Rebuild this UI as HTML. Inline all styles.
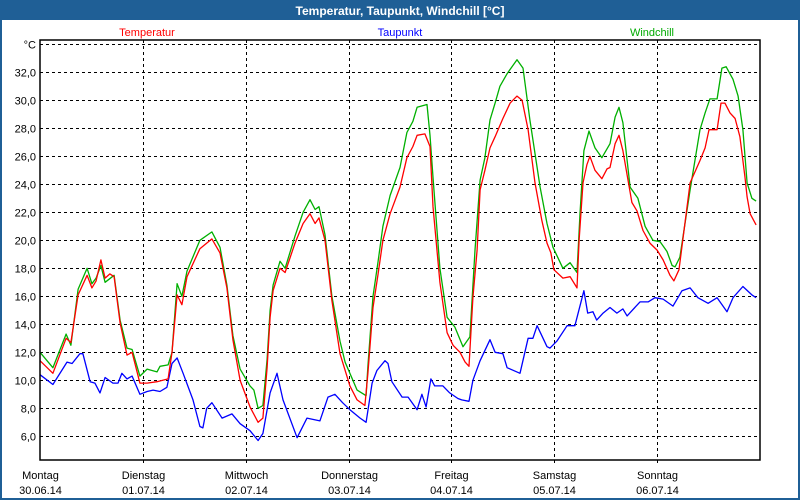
<!DOCTYPE html>
<html><head><meta charset="utf-8"><style>
html,body{margin:0;padding:0;background:#fff}
#wrap{position:relative;width:800px;height:500px;overflow:hidden;font-family:"Liberation Sans",sans-serif}
</style></head><body>
<div id="wrap">
<svg id="chart" width="800" height="500" xmlns="http://www.w3.org/2000/svg">
<rect x="0" y="0" width="800" height="500" fill="#ffffff"/>
<rect x="1" y="1" width="798" height="498" fill="none" stroke="#1f5f96" stroke-width="2"/>
<rect x="0" y="0" width="800" height="20" fill="#1f5f96"/>
<text x="400" y="15" text-anchor="middle" font-size="12" font-weight="bold" fill="#ffffff">Temperatur, Taupunkt, Windchill [°C]</text>
<text x="147" y="36" text-anchor="middle" font-size="11" fill="#ff0000">Temperatur</text>
<text x="400" y="36" text-anchor="middle" font-size="11" fill="#0000ff">Taupunkt</text>
<text x="652" y="36" text-anchor="middle" font-size="11" fill="#00aa00">Windchill</text>
<g id="grid"></g>
<g id="series"></g>
<rect x="40" y="40" width="720" height="420" fill="none" stroke="#000" stroke-width="1.5"/>
<g id="labels"></g>
</svg>
</div>
<script>
const yTicks = [6,8,10,12,14,16,18,20,22,24,26,28,30,32];
const yTickLabels = ["6,0","8,0","10,0","12,0","14,0","16,0","18,0","20,0","22,0","24,0","26,0","28,0","30,0","32,0"];
const dayNames = ["Montag","Dienstag","Mittwoch","Donnerstag","Freitag","Samstag","Sonntag"];
const dayDates = ["30.06.14","01.07.14","02.07.14","03.07.14","04.07.14","05.07.14","06.07.14"];

const tempHours = [0,3.0,6.1,7.2,8.9,11.0,12.1,13.1,14.2,15.2,16.3,17.3,18.7,20.3,21.5,23.3,25.0,27.3,29.9,30.8,32.0,33.1,34.3,37.3,40.1,42.0,43.6,45.0,46.7,49.0,50.9,52.0,53.0,53.7,54.4,56.0,57.2,59.5,61.4,63.0,64.2,65.1,66.5,68.1,70.0,72.3,74.0,75.8,76.5,77.7,78.9,80.0,81.7,84.0,85.6,87.0,88.0,89.8,91.0,91.7,93.3,95.0,96.4,98.0,99.2,100.1,101.0,102.0,102.7,103.8,105.0,106.2,108.0,109.7,111.3,112.5,113.9,115.5,117.1,118.3,119.2,119.9,122.0,123.7,125.3,125.8,126.7,127.6,128.3,129.5,131.1,132.3,133.0,134.2,135.1,136.0,138.1,139.3,140.7,142.3,144.0,145.4,147.0,147.9,149.1,151.7,154.0,155.2,156.1,158.0,158.9,159.8,161.0,162.2,163.3,164.5,165.0,165.7,167.1];
const tempValues = [11.4,10.5,13.0,12.7,16.1,17.5,16.6,17.1,18.6,17.3,17.6,17.4,14.1,11.8,12.0,9.8,9.8,9.9,10.1,12.0,16.1,15.4,17.4,19.4,20.1,19.1,16.6,12.9,10.0,8.1,7.0,7.3,10.9,14.5,16.4,18.0,17.7,19.8,21.2,21.9,21.2,21.6,20.0,15.7,11.9,9.6,8.6,8.2,10.5,15.2,17.6,20.0,21.9,23.8,25.9,26.7,27.5,27.6,26.7,22.4,17.0,13.4,12.5,12.0,11.3,11.0,15.9,19.3,23.6,25.0,26.6,27.4,28.7,29.8,30.3,30.0,27.9,24.1,21.4,19.8,19.1,17.9,17.3,17.4,16.6,20.0,24.1,25.4,26.0,25.0,24.4,25.1,25.2,26.9,27.5,26.4,22.7,22.1,20.7,19.8,19.3,18.6,17.5,17.1,17.9,24.1,25.7,26.6,27.9,27.9,29.8,29.8,29.1,28.7,27.4,24.5,23.1,21.9,21.1];

const windHours = [0,3.0,6.1,7.2,8.9,11.0,12.1,13.1,14.2,15.2,17.3,18.7,20.3,21.5,23.3,25.0,27.3,28.0,29.9,30.8,32.0,33.1,34.3,37.3,40.1,42.0,43.6,45.0,46.7,49.0,49.9,50.9,52.0,53.0,53.7,54.4,56.0,57.2,59.5,61.4,63.0,64.2,65.1,66.5,68.1,70.0,71.2,74.0,76.1,76.5,77.7,78.9,80.0,81.7,84.0,85.6,87.0,88.0,90.3,91.0,91.7,93.3,95.0,96.8,98.7,100.3,101.5,102.7,103.8,105.0,106.2,107.3,109.0,111.3,112.7,114.3,116.7,118.3,119.7,122.0,123.7,125.3,126.0,126.9,128.1,129.5,131.1,133.0,134.2,135.1,136.0,137.7,139.5,141.2,143.0,144.7,146.3,147.5,148.2,149.3,151.7,154.0,155.2,156.3,158.0,159.1,160.1,161.7,162.9,164.0,165.0,166.1,167.1];
const windValues = [12.0,10.9,13.3,12.5,16.5,18.0,16.9,17.3,18.2,17.0,17.5,14.3,12.3,12.2,10.3,10.8,10.6,11.0,11.1,12.0,16.9,16.0,17.8,20.0,20.6,19.5,16.8,13.2,10.8,9.6,9.3,8.0,8.2,11.5,15.0,16.8,18.5,18.0,20.3,22.0,22.9,22.2,22.4,20.4,16.0,12.8,11.3,9.3,8.9,11.0,16.0,18.5,21.0,23.2,25.2,27.7,28.5,29.5,29.7,27.5,24.5,18.0,14.5,13.8,12.4,13.1,19.3,24.3,25.9,28.6,29.8,31.0,31.9,32.9,32.3,28.6,23.8,21.2,19.5,18.0,18.4,17.7,21.9,26.4,27.8,26.6,25.9,26.9,28.8,29.5,28.4,23.8,23.0,21.0,20.0,19.9,19.2,18.2,18.1,18.8,23.6,27.9,29.1,30.1,30.1,32.3,32.4,31.5,30.3,27.9,24.1,23.0,22.8];

const dewHours = [0,3.0,6.3,7.5,9.3,10.0,11.7,12.8,14.0,15.2,17.0,18.2,19.1,20.3,21.5,23.3,25.0,26.4,28.0,29.6,30.8,32.0,33.4,35.7,37.3,38.0,38.9,40.1,42.5,44.8,46.7,49.0,50.9,52.0,53.7,55.3,56.7,60.0,62.3,65.3,67.2,68.8,70.6,72.3,74.7,76.1,77.5,78.6,80.5,81.2,82.1,84.5,85.9,88.0,89.1,90.1,91.2,92.1,94.0,95.6,97.5,98.4,100.1,101.0,102.7,105.0,106.2,108.0,109.0,112.0,113.9,115.0,116.0,118.3,119.0,120.6,123.0,124.8,126.9,127.8,129.0,129.9,131.4,133.0,134.6,136.0,137.0,140.0,141.9,143.5,145.4,147.7,149.8,151.7,153.5,155.9,158.0,160.3,161.7,164.0,166.1,167.1];
const dewValues = [10.4,9.7,11.3,11.2,11.9,11.9,9.9,9.8,9.1,10.2,9.8,9.8,10.5,10.1,10.3,9.0,9.2,9.3,9.2,9.5,11.2,11.6,10.5,8.6,6.7,6.6,8.0,8.4,7.3,7.6,6.9,6.4,5.7,6.2,9.1,10.5,8.6,5.9,7.3,7.1,8.8,9.0,8.4,7.9,7.3,7.0,9.8,10.7,11.4,11.2,9.9,8.8,8.8,7.9,9.0,8.1,10.1,9.6,9.6,9.1,8.7,8.6,8.5,10.0,11.4,12.9,12.0,11.9,10.9,10.5,13.0,13.0,13.9,12.4,12.3,12.8,13.9,13.9,16.4,14.8,14.9,14.3,14.8,15.2,14.8,15.1,14.6,15.6,15.6,15.9,15.8,15.3,16.4,16.6,15.9,15.5,15.9,14.9,15.9,16.7,16.1,15.9];

const NS = "http://www.w3.org/2000/svg";
const X0 = 40, X1 = 760, Y0 = 40, Y1 = 460;
const H_MAX = 168;
function xScale(h){ return X0 + h * (X1 - X0) / H_MAX; }
function yScale(v){ return 72.3 + (32 - v) * 14; }

function mk(tag, attrs, parent){
  const el = document.createElementNS(NS, tag);
  for (const k in attrs) el.setAttribute(k, attrs[k]);
  parent.appendChild(el);
  return el;
}
const grid = document.getElementById('grid');
const labels = document.getElementById('labels');
const series = document.getElementById('series');

yTicks.forEach((t, i) => {
  const y = Math.round(yScale(t)) + 0.5;
  const ln = mk('line', {x1: X0, x2: X1, y1: y, y2: y, stroke: '#000', 'stroke-dasharray': '3,3', 'stroke-width': 1}, grid);
  
  
  const tx = mk('text', {x: 36, y: y + 4, 'text-anchor': 'end', 'font-size': 11, fill: '#000'}, labels);
  tx.textContent = yTickLabels[i];
  
  
});
// top unit line
const topY = Math.round(yScale(34)) + 0.5;
const tl = mk('line', {x1: X0, x2: X1, y1: topY, y2: topY, stroke: '#000', 'stroke-dasharray': '3,3'}, grid);


const ut = mk('text', {x: 36, y: topY + 4, 'text-anchor': 'end', 'font-size': 11, fill: '#000'}, labels);
ut.textContent = '°C';



dayNames.forEach((d, i) => {
  const x = Math.round(xScale(i * 24)) + 0.5;
  if (i > 0) {
    const vl = mk('line', {x1: x, x2: x, y1: Y0, y2: Y1 + 4, stroke: '#000', 'stroke-dasharray': '3,3'}, grid);
    
    
  }
  const t1 = mk('text', {x: x, y: 479, 'text-anchor': 'middle', 'font-size': 11, fill: '#000'}, labels);
  t1.textContent = d;
  
  
  const t2 = mk('text', {x: x, y: 494, 'text-anchor': 'middle', 'font-size': 11, fill: '#000'}, labels);
  t2.textContent = dayDates[i];
  
  
});

function drawLine(hours, values, color, name){
  const n = Math.min(hours.length, values.length);
  let d = '';
  for (let i = 0; i < n; i++) {
    d += (i ? 'L' : 'M') + xScale(hours[i]).toFixed(1) + ',' + yScale(values[i]).toFixed(1);
  }
  const p = mk('path', {d: d, fill: 'none', stroke: color, 'stroke-width': 1.3, 'stroke-linejoin': 'round'}, series);
  
  
}
drawLine(dewHours, dewValues, '#0000ff', 'taupunkt-line');
drawLine(windHours, windValues, '#00b000', 'windchill-line');
drawLine(tempHours, tempValues, '#ff0000', 'temperatur-line');
</script>
</body></html>
